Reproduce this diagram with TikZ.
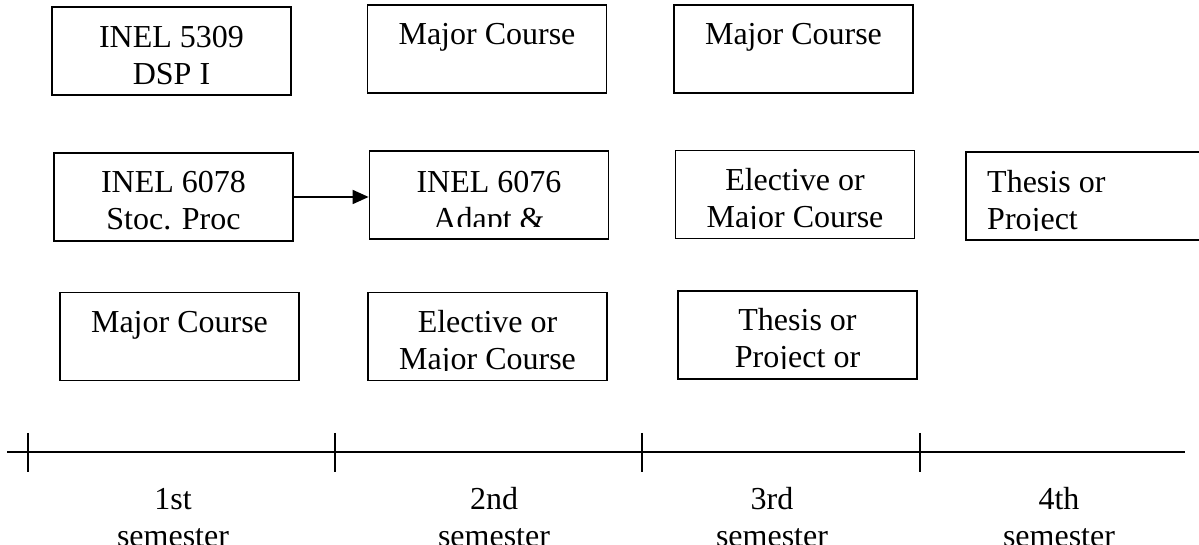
\documentclass[tikz,border=0pt]{standalone}
\usepackage{fontspec}
\setmainfont{Liberation Serif}
\usetikzlibrary{arrows.meta}
\tikzset{
  course/.style={draw=black, line width=1.8pt, minimum width=239pt, minimum height=88pt, inner sep=0pt},
  txt/.style={anchor=base, inner sep=0pt, font=\fontsize{32}{37}\selectfont},
  ltxt/.style={txt, anchor=base west},
  axisline/.style={line width=1.8pt},
  prereq/.style={line width=1.8pt, -{Triangle[length=16pt,width=14pt]}}
}
\begin{document}
\begin{tikzpicture}[x=1pt,y=1pt]
\useasboundingbox (0,0) rectangle (1199,545);

% course boxes (column = semester, row = slot)
\node[course] (b11) at (171.5,494) {};
\node[course] (b21) at (173.5,348) {};
\node[course] (b31) at (179.5,208.5) {};
\node[course] (b12) at (487,496) {};
\node[course] (b22) at (489,350) {};
\node[course] (b32) at (487.5,208.5) {};
\node[course] (b13) at (793.5,496) {};
\node[course] (b23) at (795,350.5) {};
\node[course] (b33) at (797.5,210) {};
\node[course] (b24) at (1085.5,349) {};

% box texts, cut off at the lower text margin of each box
\begin{scope}
  \clip (53,538) rectangle (290,459.5);
  \node[txt] (t11a) at (171.5,497) {INEL 5309};
  \node[txt] (t11b) at (171.5,460) {DSP I};
\end{scope}
\begin{scope}
  \clip (55,391) rectangle (292,314);
  \node[txt] (t21a) at (173.5,352) {INEL 6078};
  \node[txt] (t21b) at (173.5,315) {Stoc. Proc};
\end{scope}
\node[txt] (t31) at (179.5,212) {Major Course};
\node[txt] (t12) at (487,500) {Major Course};
\begin{scope}
  \clip (370,393) rectangle (608,318);
  \node[txt] (t22a) at (489,352) {INEL 6076};
  \node[txt] (t22b) at (489,315) {Adapt \&};
\end{scope}
\begin{scope}
  \clip (369,252) rectangle (606,174);
  \node[txt] (t32a) at (487.5,212) {Elective or};
  \node[txt] (t32b) at (487.5,175) {Major Course};
\end{scope}
\node[txt] (t13) at (793.5,500) {Major Course};
\begin{scope}
  \clip (677,394) rectangle (913,316);
  \node[txt] (t23a) at (795,354) {Elective or};
  \node[txt] (t23b) at (795,317) {Major Course};
\end{scope}
\begin{scope}
  \clip (679,253) rectangle (916,176);
  \node[txt] (t33a) at (797.5,214) {Thesis or};
  \node[txt] (t33b) at (797.5,177) {Project or};
\end{scope}
\begin{scope}
  \clip (967,392) rectangle (1199,314.5);
  \node[ltxt] (t24a) at (987,352) {Thesis or};
  \node[ltxt] (t24b) at (987,315) {Project};
\end{scope}

% prerequisite arrow
\draw[prereq] (b21.east) -- (b21.east -| b22.west);

% semester time line
\coordinate (axL) at (7,93);
\coordinate (axR) at (1185,93);
\draw[axisline] (axL) -- (axR);
\foreach \tx/\nm in {28/k1,335/k2,642/k3,920/k4}{
  \coordinate (\nm top) at (\tx,112);
  \coordinate (\nm bot) at (\tx,73);
  \draw[axisline] (\nm top) -- (\nm bot);
}

% semester labels
\node[txt] (s1a) at (173,35) {1st};
\node[txt] (s1b) at (173,-2) {semester};
\node[txt] (s2a) at (494,35) {2nd};
\node[txt] (s2b) at (494,-2) {semester};
\node[txt] (s3a) at (772,35) {3rd};
\node[txt] (s3b) at (772,-2) {semester};
\node[txt] (s4a) at (1059,35) {4th};
\node[txt] (s4b) at (1059,-2) {semester};
\end{tikzpicture}
\end{document}
